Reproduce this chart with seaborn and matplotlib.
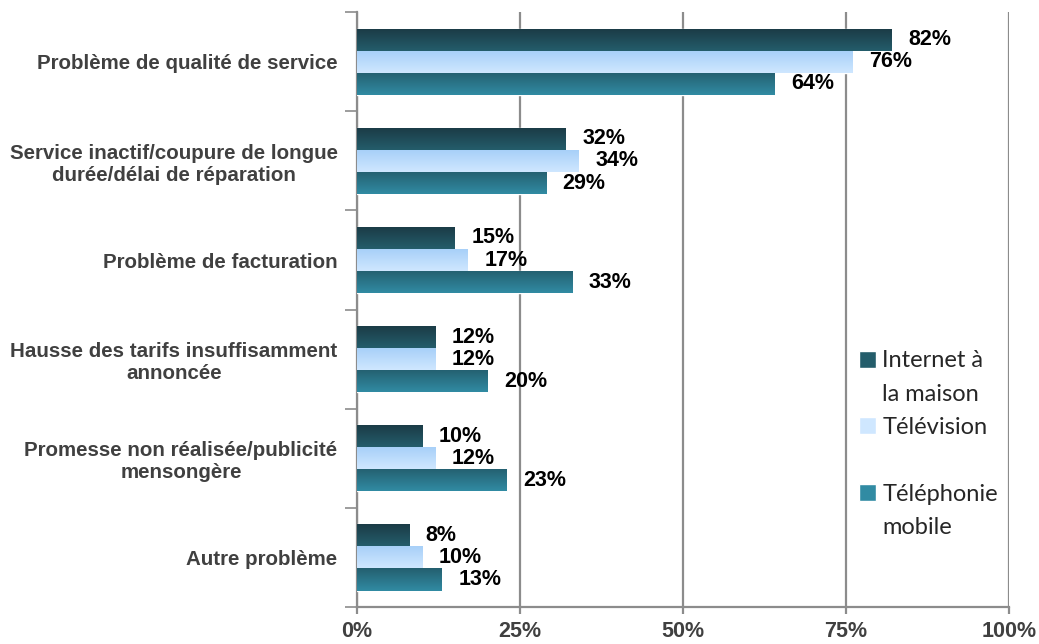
import numpy as np
import pandas as pd
import matplotlib
matplotlib.use("Agg")
import matplotlib.pyplot as plt
from matplotlib.colors import LinearSegmentedColormap
from matplotlib.patches import Patch
import seaborn as sns

# data (percent of respondents)
categories = [
    "Problème de qualité de service",
    "Service inactif/coupure de longue\ndurée/délai de réparation",
    "Problème de facturation",
    "Hausse des tarifs insuffisamment\nannoncée",
    "Promesse non réalisée/publicité\nmensongère",
    "Autre problème",
]
series = ["Internet à la maison", "Télévision", "Téléphonie mobile"]
internet = [82, 32, 15, 12, 10, 8]
television = [76, 34, 17, 12, 12, 10]
mobile = [64, 29, 33, 20, 23, 13]
xticks = [0, 25, 50, 75, 100]

# top / bottom colours of the gradient fills
grads = [("#1b3a45", "#245d6b"), ("#a6cff8", "#cfe7ff"), ("#245f6f", "#318ba3")]

df = pd.DataFrame({
    "cat": categories * 3,
    "serie": [s for s in series for _ in categories],
    "val": internet + television + mobile,
})

sns.set_theme(style="white")
plt.rcParams["font.family"] = ["Liberation Sans", "DejaVu Sans"]

fig = plt.figure(figsize=(10.39, 6.44), dpi=100)
ax = fig.add_axes([0.3436, 0.0575, 0.9711 - 0.3436, 0.981 - 0.0575])

sns.barplot(data=df, y="cat", x="val", hue="serie", orient="h",
            palette=[g[1] for g in grads], width=0.67, gap=0,
            errorbar=None, ax=ax, legend=False, zorder=3)

ax.set_xlim(0, 100)
ax.set_ylim(len(categories) - 0.5, -0.5)
xl, yl = ax.get_xlim(), ax.get_ylim()

# gradient fills clipped to each bar
for cont, (ctop, cbot) in zip(ax.containers, grads):
    cmap = LinearSegmentedColormap.from_list("g", [ctop, cbot])
    for bar in cont:
        x0, y0 = bar.get_xy()
        w, h = bar.get_width(), bar.get_height()
        im = ax.imshow(np.linspace(0, 1, 64).reshape(-1, 1), cmap=cmap,
                       aspect="auto", extent=(x0, x0 + w, y0 + h, y0),
                       origin="upper", zorder=4, interpolation="bilinear")
        im.set_clip_path(bar)
ax.set_xlim(xl)
ax.set_ylim(yl)

vals = [internet, television, mobile]
for cont, v in zip(ax.containers, vals):
    ax.bar_label(cont, labels=[f"{x}%" for x in v], padding=12,
                 fontsize=15.5, fontweight="bold", color="black", zorder=5)

# axes styling
gray = "#8c8c8c"
ax.set_xticks(xticks)
ax.set_xticklabels([f"{t}%" for t in xticks], fontsize=15.5,
                   fontweight="bold", color="#404040")
ax.grid(axis="x", color=gray, linewidth=1.6, zorder=0)
ax.grid(axis="y", visible=False)
for s in ["top", "right"]:
    ax.spines[s].set_visible(False)
for s in ["left", "bottom"]:
    ax.spines[s].set_color(gray)
    ax.spines[s].set_linewidth(1.6)
ax.tick_params(axis="x", length=5, width=1.6, color=gray, pad=5, bottom=True)
ax.set_yticks(range(len(categories)))
ax.set_yticks(np.arange(-0.5, len(categories)), minor=True)
ax.tick_params(axis="y", which="major", length=0, pad=14)
ax.tick_params(axis="y", which="minor", length=9, width=1.2, color=gray, left=True)
for lab in ax.get_yticklabels():
    lab.set_fontsize(14.8)
    lab.set_fontweight("bold")
    lab.set_color("#404040")
    lab.set_multialignment("center")
ax.set_xlabel("")
ax.set_ylabel("")

# legend: one row per text line so the square sits on the first line
leg_labels = ["Internet à", "la maison", "Télévision", "", "Téléphonie", "mobile"]
blank = Patch(facecolor="none", edgecolor="none")
handles = [Patch(facecolor=grads[0][1]), blank, Patch(facecolor=grads[1][1]),
           blank, Patch(facecolor=grads[2][1]), blank]
leg = ax.legend(handles, leg_labels, loc="upper left", bbox_to_anchor=(0.737, 0.467),
                frameon=False, handlelength=0.75, handleheight=0.75,
                handletextpad=0.25, labelspacing=0.52,
                prop={"family": "Lato", "size": 17})

fig.savefig("out.png", dpi=100)
